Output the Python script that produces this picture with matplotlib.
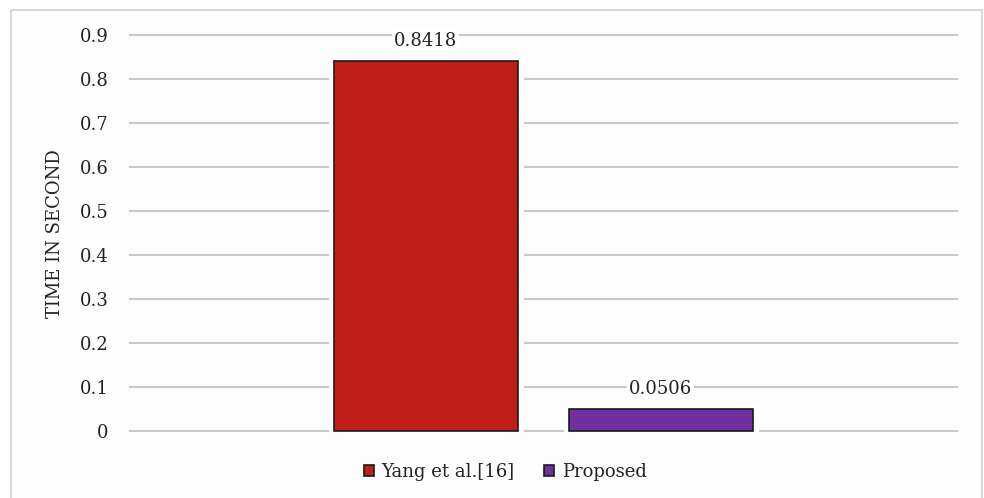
import matplotlib
matplotlib.use("Agg")
import matplotlib.pyplot as plt
from matplotlib.patches import Rectangle

series = ["Yang et al.[16]", "Proposed"]
values = [0.8418, 0.0506]
labels = ["0.8418", "0.0506"]
colors = ["#BE2019", "#7030A0"]
yticks = [0, 0.1, 0.2, 0.3, 0.4, 0.5, 0.6, 0.7, 0.8, 0.9]
ytick_labels = ["0", "0.1", "0.2", "0.3", "0.4", "0.5", "0.6", "0.7", "0.8", "0.9"]

plt.rcParams["font.family"] = ["DejaVu Serif"]

W, H = 984, 498
fig = plt.figure(figsize=(W / 100, H / 100), dpi=100)
fig.patch.set_facecolor("white")

# outer chart frame
fig.add_artist(Rectangle((11 / W, -0.02), (982 - 11) / W, 1.02 - 10 / H,
                         transform=fig.transFigure, facecolor="#FDFDFD",
                         edgecolor="#D2D2D2", linewidth=1.2, zorder=0))

ax = fig.add_axes([130 / W, 1 - 433.2 / H, (957 - 130) / W, (433.2 - 32.8) / H])
ax.set_facecolor("none")
ax.set_xlim(-0.5, 0.5)
ax.set_ylim(-0.005, 0.905)

offsets = [-0.1425, 0.1415]
width = 0.2225
for v, c, o, lab, name in zip(values, colors, offsets, labels, series):
    # white halo around the bar interrupts the gridlines
    ax.bar(o, v, width=width, color="white", edgecolor="white", linewidth=8, zorder=2)
    ax.bar(o, v, width=width, color=c, edgecolor="#1a1a1a", linewidth=1.2, zorder=3,
           label=name)
    ax.text(o, v + 0.045, lab, ha="center", va="center", fontsize=13, color="#222222",
            zorder=4, bbox=dict(facecolor="white", edgecolor="none", pad=1.5))

for y in yticks:
    ax.axhline(y, color="#C8C8C8", linewidth=1.5, zorder=1, clip_on=False)

ax.set_yticks(yticks)
ax.set_yticklabels(ytick_labels)
ax.set_xticks([])
ax.tick_params(axis="y", length=0, pad=15.5, labelsize=13, labelcolor="#222222")
for s in ax.spines.values():
    s.set_visible(False)

fig.text(55 / W, 1 - 234 / H, "TIME IN SECOND", rotation=90, ha="center", va="center",
         fontsize=13, color="#222222")

fig.legend(loc="center", bbox_to_anchor=(505 / W, 1 - 472 / H), ncol=2, frameon=False,
           fontsize=13, handlelength=0.6, handleheight=0.6, handletextpad=0.4,
           columnspacing=1.6, labelcolor="#222222")

fig.savefig("out.png", dpi=100)
